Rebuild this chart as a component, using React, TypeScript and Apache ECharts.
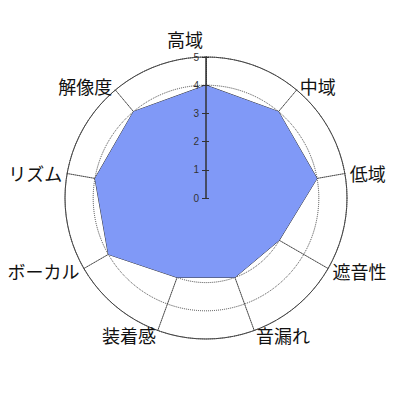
import React, { useRef, useEffect } from 'react';
import * as echarts from 'echarts';

// 反時計回り (高域 から左回り)
const axisNames = ['高域', '解像度', 'リズム', 'ボーカル', '装着感', '音漏れ', '遮音性', '低域', '中域'];
const scores = [4, 4, 4, 4, 3, 3, 3, 4, 4];
const scaleMax = 5;
const tickStep = 1;

const CX = 206;
const CY = 198;
const R = 141;

const App: React.FC = () => {
  const chartRef = useRef<HTMLDivElement>(null);

  useEffect(() => {
    if (!chartRef.current) return;
    const chart = echarts.init(chartRef.current, null, { renderer: 'svg' });

    const indicator = axisNames.map(name => ({ name, max: scaleMax, min: 0 }));

    const option = {
      animation: false,
      backgroundColor: '#fff',
      radar: [
        {
          center: [CX, CY],
          radius: R,
          shape: 'circle',
          splitNumber: scaleMax / tickStep,
          indicator,
          nameGap: 5,
          axisName: {
            color: '#111',
            fontSize: 18,
            fontFamily: 'Noto Sans CJK JP',
            // 一番上のラベルは軸から少し左にずらす
            formatter: (name: string) => (name === axisNames[0] ? `{top|${name}}` : name),
            rich: {
              top: {
                color: '#111',
                fontSize: 18,
                fontFamily: 'Noto Sans CJK JP',
                padding: [0, 42, 4, 0]
              }
            }
          },
          splitArea: { show: false },
          splitLine: { lineStyle: { color: '#444', type: 'dotted', width: 1 } },
          axisLine: { lineStyle: { color: '#444', type: 'dotted', width: 1 } }
        },
        {
          center: [CX, CY],
          radius: R,
          shape: 'circle',
          splitNumber: 1,
          indicator: axisNames.map(() => ({ name: '', max: scaleMax, min: 0 })),
          axisName: { show: false },
          splitArea: { show: false },
          splitLine: { lineStyle: { color: '#444', type: 'solid', width: 1 } },
          axisLine: { show: false }
        }
      ],
      grid: { left: CX, top: CY - R, height: R, width: 10 },
      xAxis: { type: 'value', show: false },
      yAxis: [
        {
          type: 'value',
          min: 0,
          max: scaleMax,
          interval: tickStep,
          position: 'left',
          z: 10,
          splitLine: { show: false },
          axisLine: { show: true, lineStyle: { color: '#333', width: 1.5 } },
          axisTick: { show: true, length: 4, lineStyle: { color: '#333' } },
          axisLabel: { fontSize: 10, color: '#333', margin: 7, fontFamily: 'Liberation Sans' }
        },
        {
          type: 'value',
          min: 0,
          max: scaleMax,
          interval: tickStep,
          position: 'left',
          offset: 0,
          z: 10,
          splitLine: { show: false },
          axisLine: { show: false },
          axisTick: { show: true, inside: true, length: 3, lineStyle: { color: '#333' } },
          axisLabel: { show: false }
        }
      ],
      series: [
        {
          type: 'radar',
          radarIndex: 0,
          z: 3,
          symbol: 'none',
          lineStyle: { color: '#333', width: 1 },
          areaStyle: { color: '#8099f7', opacity: 1 },
          data: [{ value: scores, name: '評価' }]
        }
      ]
    };

    chart.setOption(option);
    return () => {
      chart.dispose();
    };
  }, []);

  return (
    <div
      ref={chartRef}
      style={{ position: 'fixed', left: 0, top: 0, width: '400px', height: '400px', background: '#fff' }}
    />
  );
};

export default App;
